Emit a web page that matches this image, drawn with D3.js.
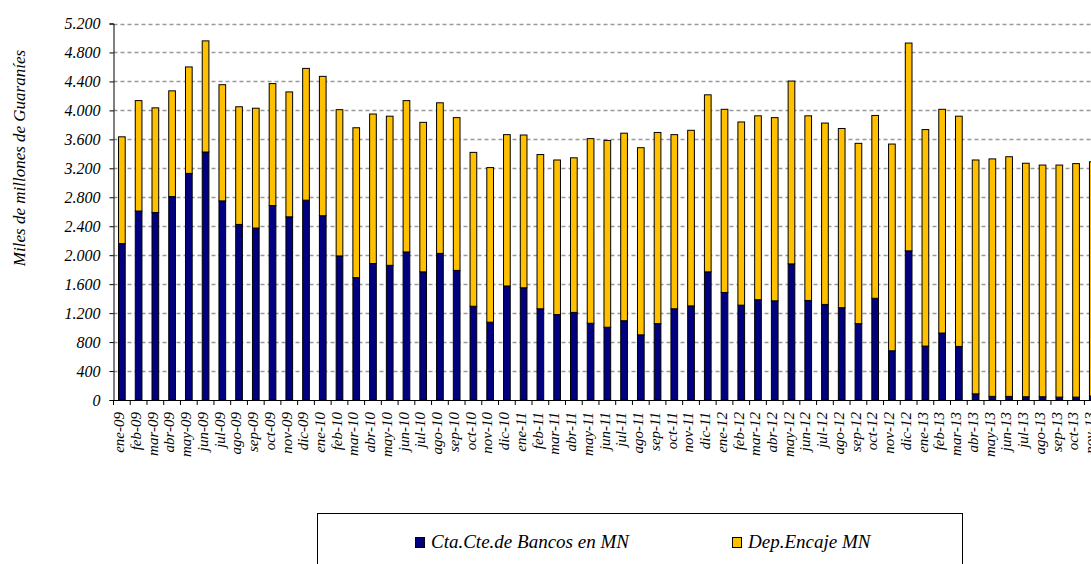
<!DOCTYPE html>
<html>
<head>
<meta charset="utf-8">
<script src="https://cdn.jsdelivr.net/npm/d3@7"></script>
<style>
  body { margin: 0; background: #fff; }
  svg { display: block; }
</style>
</head>
<body>
<svg id="chart" width="1091" height="564"></svg>
<script>
// ---- DATA ----
const months = ["ene-09","feb-09","mar-09","abr-09","may-09","jun-09","jul-09","ago-09","sep-09","oct-09","nov-09","dic-09",
  "ene-10","feb-10","mar-10","abr-10","may-10","jun-10","jul-10","ago-10","sep-10","oct-10","nov-10","dic-10",
  "ene-11","feb-11","mar-11","abr-11","may-11","jun-11","jul-11","ago-11","sep-11","oct-11","nov-11","dic-11",
  "ene-12","feb-12","mar-12","abr-12","may-12","jun-12","jul-12","ago-12","sep-12","oct-12","nov-12","dic-12",
  "ene-13","feb-13","mar-13","abr-13","may-13","jun-13","jul-13","ago-13","sep-13","oct-13","nov-13"];

// Cta.Cte.de Bancos en MN
const ctaCte = [2160,2610,2590,2810,3130,3425,2750,2425,2375,2685,2530,2760,
  2545,1990,1690,1885,1860,2045,1770,2025,1790,1295,1075,1575,
  1550,1260,1180,1210,1060,1005,1095,900,1055,1260,1300,1770,
  1485,1310,1385,1370,1880,1375,1320,1275,1055,1405,680,2060,
  745,925,740,85,50,50,45,45,40,40,55];

// Dep.Encaje MN
const depEncaje = [1475,1525,1445,1460,1470,1535,1605,1625,1655,1685,1725,1820,
  1925,2020,2070,2065,2060,2090,2065,2080,2110,2125,2135,2090,
  2110,2130,2135,2135,2550,2580,2590,2585,2640,2405,2425,2445,
  2530,2530,2540,2530,2525,2550,2505,2475,2490,2525,2855,2870,
  2990,3090,3180,3230,3280,3310,3225,3200,3205,3225,3235];

const seriesNames = ["Cta.Cte.de Bancos en MN", "Dep.Encaje MN"];
const seriesColors = ["#000080", "#FFC000"];
const yTicks = [0,400,800,1200,1600,2000,2400,2800,3200,3600,4000,4400,4800,5200];
const yTitle = "Miles de millones de Guaraníes";

// ---- CHART ----
const FONT = '"Liberation Serif", "Times New Roman", serif';
const svg = d3.select("#chart").style("font-family", FONT);
const mLeft = 113.5, mBottom = 400, mTop = 23.5;
const step = 16.74;
const mRight = mLeft + step * months.length;

function serif(sel, size) {
  return sel.style("font-family", FONT).style("font-style", "italic")
    .style("font-size", size + "px").attr("fill", "#000");
}

const locale = d3.formatLocale({decimal: ",", thousands: ".", grouping: [3], currency: ["", ""]});
const fmt = locale.format(",d");

const y = d3.scaleLinear().domain([0, 5200]).range([mBottom, mTop]);
const xOuter = d3.scaleBand().domain(months).range([mLeft, mRight]).padding(0);
const x = d3.scaleBand().domain(months).range([mLeft, mRight]).paddingInner(0.6).paddingOuter(0.3);

// gridlines
svg.append("g").selectAll("line").data(yTicks.filter(d => d > 0)).join("line")
  .attr("x1", mLeft).attr("x2", 1091)
  .attr("y1", d => Math.round(y(d)) + 0.5).attr("y2", d => Math.round(y(d)) + 0.5)
  .attr("stroke", "#999").attr("stroke-width", 1.4).attr("stroke-dasharray", "4,3");

// stacked data
const stackData = months.map((m, i) => ({month: m, a: ctaCte[i], b: depEncaje[i]}));
const stack = d3.stack().keys(["a", "b"])(stackData);

svg.append("g").selectAll("g").data(stack).join("g")
  .attr("fill", (d, i) => seriesColors[i])
  .selectAll("rect").data(d => d).join("rect")
  .attr("x", d => x(d.data.month))
  .attr("width", x.bandwidth())
  .attr("y", d => y(d[1]))
  .attr("height", d => y(d[0]) - y(d[1]))
  .attr("stroke", "#000").attr("stroke-width", 1);

// y axis
const yAxis = d3.axisLeft(y).tickValues(yTicks).tickFormat(fmt).tickSize(4).tickPadding(9);
const gy = svg.append("g").attr("transform", `translate(${mLeft},0)`).call(yAxis);
gy.attr("font-family", null).attr("font-size", null);
gy.select(".domain").attr("stroke", "#000");
gy.selectAll(".tick line").attr("stroke", "#000");
serif(gy.selectAll(".tick text"), 16);

// x axis
const gx = svg.append("g").attr("transform", `translate(0,${mBottom})`);
gx.append("line").attr("x1", mLeft).attr("x2", 1091).attr("y1", 0.5).attr("y2", 0.5).attr("stroke", "#000");
gx.selectAll("line.tk").data(months).join("line").attr("class", "tk")
  .attr("x1", d => xOuter(d)).attr("x2", d => xOuter(d))
  .attr("y1", 0).attr("y2", 5).attr("stroke", "#000");
serif(gx.selectAll("text").data(months).join("text")
  .attr("transform", d => `translate(${xOuter(d) + xOuter.bandwidth() / 2 - 3},12) rotate(-90)`)
  .attr("text-anchor", "end").attr("dy", "0.35em")
  .text(d => d), 15);

// y title
serif(svg.append("text")
  .attr("transform", "translate(25,158) rotate(-90)")
  .attr("text-anchor", "middle")
  .text(yTitle), 17);

// legend
const lg = svg.append("g");
lg.append("rect").attr("x", 317.5).attr("y", 513.5).attr("width", 645).attr("height", 80)
  .attr("fill", "#fff").attr("stroke", "#000").attr("stroke-width", 1);
const legendX = [415, 732];
seriesNames.forEach((name, i) => {
  lg.append("rect").attr("x", legendX[i] + 0.5).attr("y", 537.5).attr("width", 9).attr("height", 10)
    .attr("fill", seriesColors[i]).attr("stroke", "#000").attr("stroke-width", 1);
  serif(lg.append("text").attr("x", legendX[i] + 16).attr("y", 548).text(name), 19);
});
</script>
</body>
</html>
